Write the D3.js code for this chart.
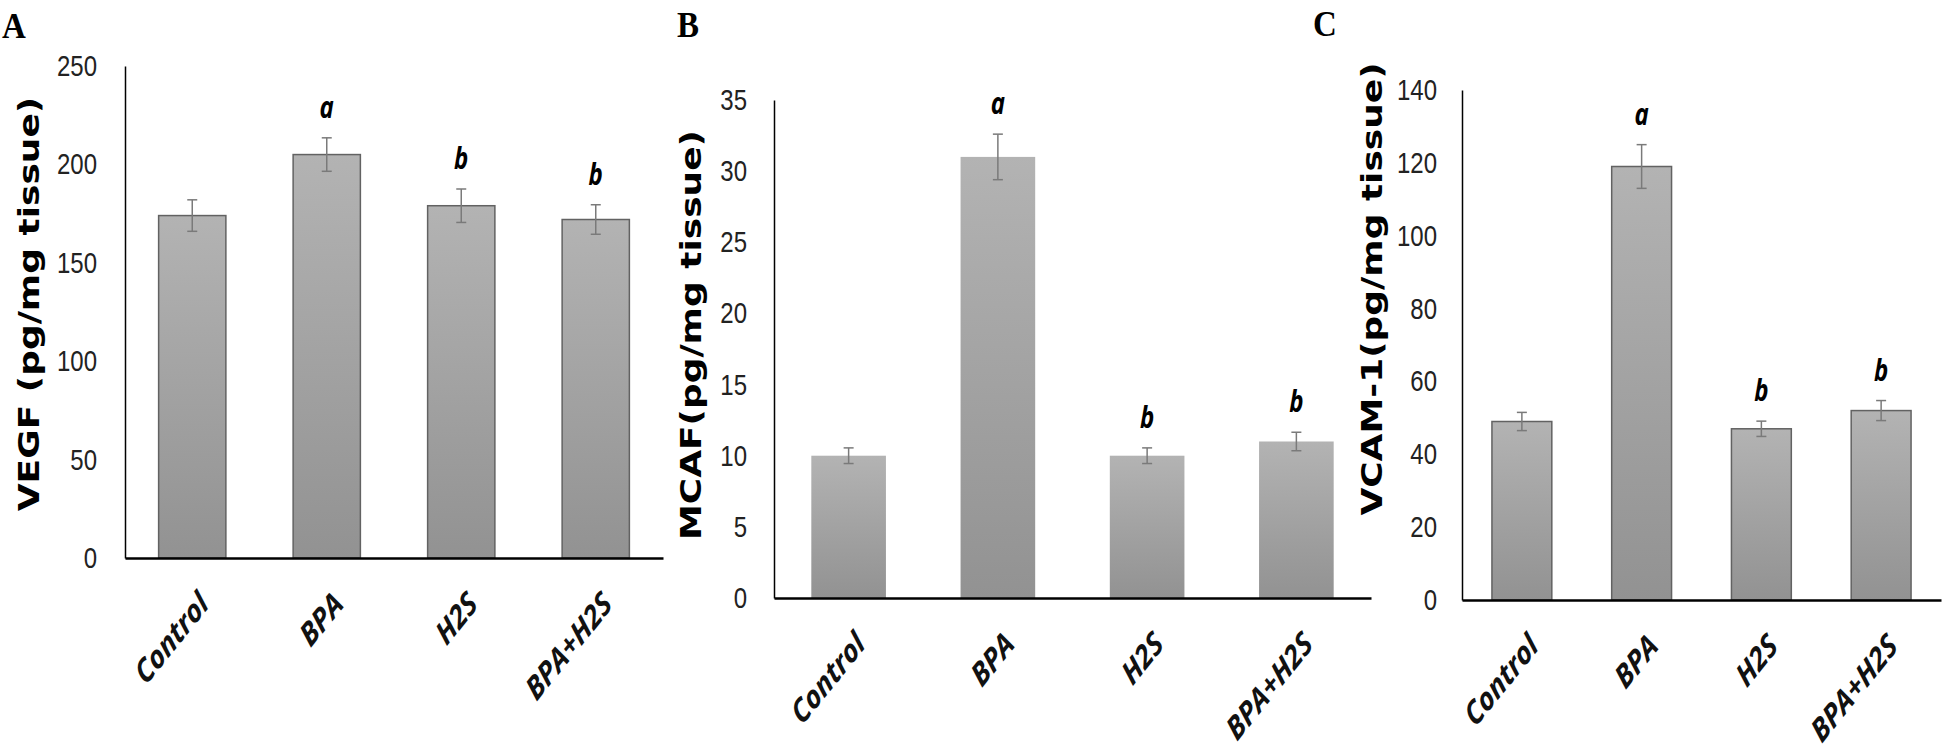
<!DOCTYPE html>
<html>
<head>
<meta charset="utf-8">
<script src="https://cdn.jsdelivr.net/npm/d3@7"></script>
<style>
  body { margin: 0; background: #fff; }
</style>
</head>
<body>
<script>
// groups on the x axis
var groups = ["Control", "BPA", "H2S", "BPA+H2S"];

// panel A, VEGF
var vegf = [174, 205, 179, 172];
var vegfErr = [8, 8.5, 8.5, 7.5];
var vegfTicks = [0, 50, 100, 150, 200, 250];

// panel B, MCAF
var mcaf = [10, 31, 10, 11];
var mcafErr = [0.55, 1.6, 0.55, 0.65];
var mcafTicks = [0, 5, 10, 15, 20, 25, 30, 35];

// panel C, VCAM-1
var vcam = [49, 119, 47, 52];
var vcamErr = [2.5, 6, 2.1, 2.75];
var vcamTicks = [0, 20, 40, 60, 80, 100, 120, 140];

// significance letters (same in every panel)
var sigLetters = ["", "a", "b", "b"];

// the figure is stretched vertically, text follows that
var K = 1.24;

var panels = [
  {tag: "A", title: "VEGF (pg/mg tissue)", values: vegf, err: vegfErr, ticks: vegfTicks,
   left: 125, right: 663, zero: 558, top: 66, outline: true,
   tickRight: 97, labelX: 39, labelY: 304, tagX: 2, tagY: 38},
  {tag: "B", title: "MCAF(pg/mg tissue)", values: mcaf, err: mcafErr, ticks: mcafTicks,
   left: 774, right: 1371, zero: 598, top: 100, outline: false,
   tickRight: 747, labelX: 701, labelY: 335, tagX: 677, tagY: 37},
  {tag: "C", title: "VCAM-1(pg/mg tissue)", values: vcam, err: vcamErr, ticks: vcamTicks,
   left: 1462, right: 1941, zero: 600, top: 90, outline: true,
   tickRight: 1437, labelX: 1382, labelY: 289, tagX: 1313, tagY: 36}
];

var svg = d3.select("body").append("svg")
    .attr("width", 1944)
    .attr("height", 755);

var grad = svg.append("defs").append("linearGradient")
    .attr("id", "barFill")
    .attr("x1", 0).attr("y1", 0).attr("x2", 0).attr("y2", 1);
grad.append("stop").attr("offset", "0%").attr("stop-color", "#b3b3b3");
grad.append("stop").attr("offset", "100%").attr("stop-color", "#929292");

panels.forEach(function(p) {
  var g = svg.append("g");
  var max = p.ticks[p.ticks.length - 1];

  var x = d3.scaleBand().domain(groups).range([p.left, p.right])
      .paddingInner(0.5).paddingOuter(0.25);
  var y = d3.scaleLinear().domain([0, max]).range([p.zero, p.top]);

  // bars
  g.selectAll(".bar").data(p.values).join("rect")
      .attr("class", "bar")
      .attr("x", (d, i) => x(groups[i]))
      .attr("y", d => y(d))
      .attr("width", x.bandwidth())
      .attr("height", d => y(0) - y(d))
      .attr("fill", "url(#barFill)")
      .attr("stroke", p.outline ? "#626262" : "none")
      .attr("stroke-width", 1.5);

  // error bars
  var eb = g.selectAll(".err").data(p.values).join("g")
      .attr("class", "err")
      .attr("stroke", "#7a7a7a")
      .attr("stroke-width", 1.5);
  eb.append("line")
      .attr("x1", (d, i) => x(groups[i]) + x.bandwidth() / 2)
      .attr("x2", (d, i) => x(groups[i]) + x.bandwidth() / 2)
      .attr("y1", (d, i) => y(d - p.err[i]))
      .attr("y2", (d, i) => y(d + p.err[i]));
  [-1, 1].forEach(function(s) {
    eb.append("line")
        .attr("x1", (d, i) => x(groups[i]) + x.bandwidth() / 2 - 5)
        .attr("x2", (d, i) => x(groups[i]) + x.bandwidth() / 2 + 5)
        .attr("y1", (d, i) => y(d + s * p.err[i]))
        .attr("y2", (d, i) => y(d + s * p.err[i]));
  });

  // letters above the bars
  g.selectAll(".sig").data(p.values).join("text")
      .attr("class", "sig")
      .attr("transform", (d, i) => "translate(" + (x(groups[i]) + x.bandwidth() / 2) + ","
            + (y(d + p.err[i]) - 20) + ") scale(1," + K + ")")
      .attr("text-anchor", "middle")
      .style("font-family", "'Open Sans', sans-serif")
      .style("font-weight", "bold")
      .style("font-style", "italic")
      .style("font-size", "24px")
      .text((d, i) => sigLetters[i]);

  // y axis
  var ya = g.append("g")
      .attr("transform", "translate(" + p.left + ",0)")
      .call(d3.axisLeft(y).tickValues(p.ticks).tickSize(0).tickSizeOuter(0)
            .tickPadding(p.left - p.tickRight));
  ya.select(".domain").attr("stroke", "#000").attr("stroke-width", 1.5);
  ya.selectAll("text")
      .attr("transform", "scale(1," + K + ")")
      .attr("fill", "#222")
      .style("font-family", "'Liberation Sans', Arial, sans-serif")
      .style("font-size", "24px");

  // x axis
  var xa = g.append("g")
      .attr("transform", "translate(0," + p.zero + ")")
      .call(d3.axisBottom(x).tickSize(0).tickSizeOuter(0));
  xa.select(".domain").attr("stroke", "#000").attr("stroke-width", 2.5);
  xa.selectAll("text")
      .attr("x", null).attr("y", null).attr("dy", null)
      .attr("transform", "translate(18,48) scale(1," + K + ") rotate(-45)")
      .attr("text-anchor", "end")
      .attr("fill", "#111")
      .style("font-family", "'Open Sans', sans-serif")
      .style("font-weight", "bold")
      .style("font-style", "italic")
      .style("font-size", "26px");

  // y axis title
  g.append("text")
      .attr("transform", "translate(" + p.labelX + "," + p.labelY + ") scale(1," + K + ") rotate(-90)")
      .attr("text-anchor", "middle")
      .style("font-family", "'DejaVu Sans', sans-serif")
      .style("font-weight", "bold")
      .style("font-size", "29px")
      .text(p.title);

  // panel tag
  g.append("text")
      .attr("transform", "translate(" + p.tagX + "," + p.tagY + ") scale(1,1.1)")
      .style("font-family", "'Liberation Serif', 'Times New Roman', serif")
      .style("font-weight", "bold")
      .style("font-size", "33px")
      .text(p.tag);
});
</script>
</body>
</html>
